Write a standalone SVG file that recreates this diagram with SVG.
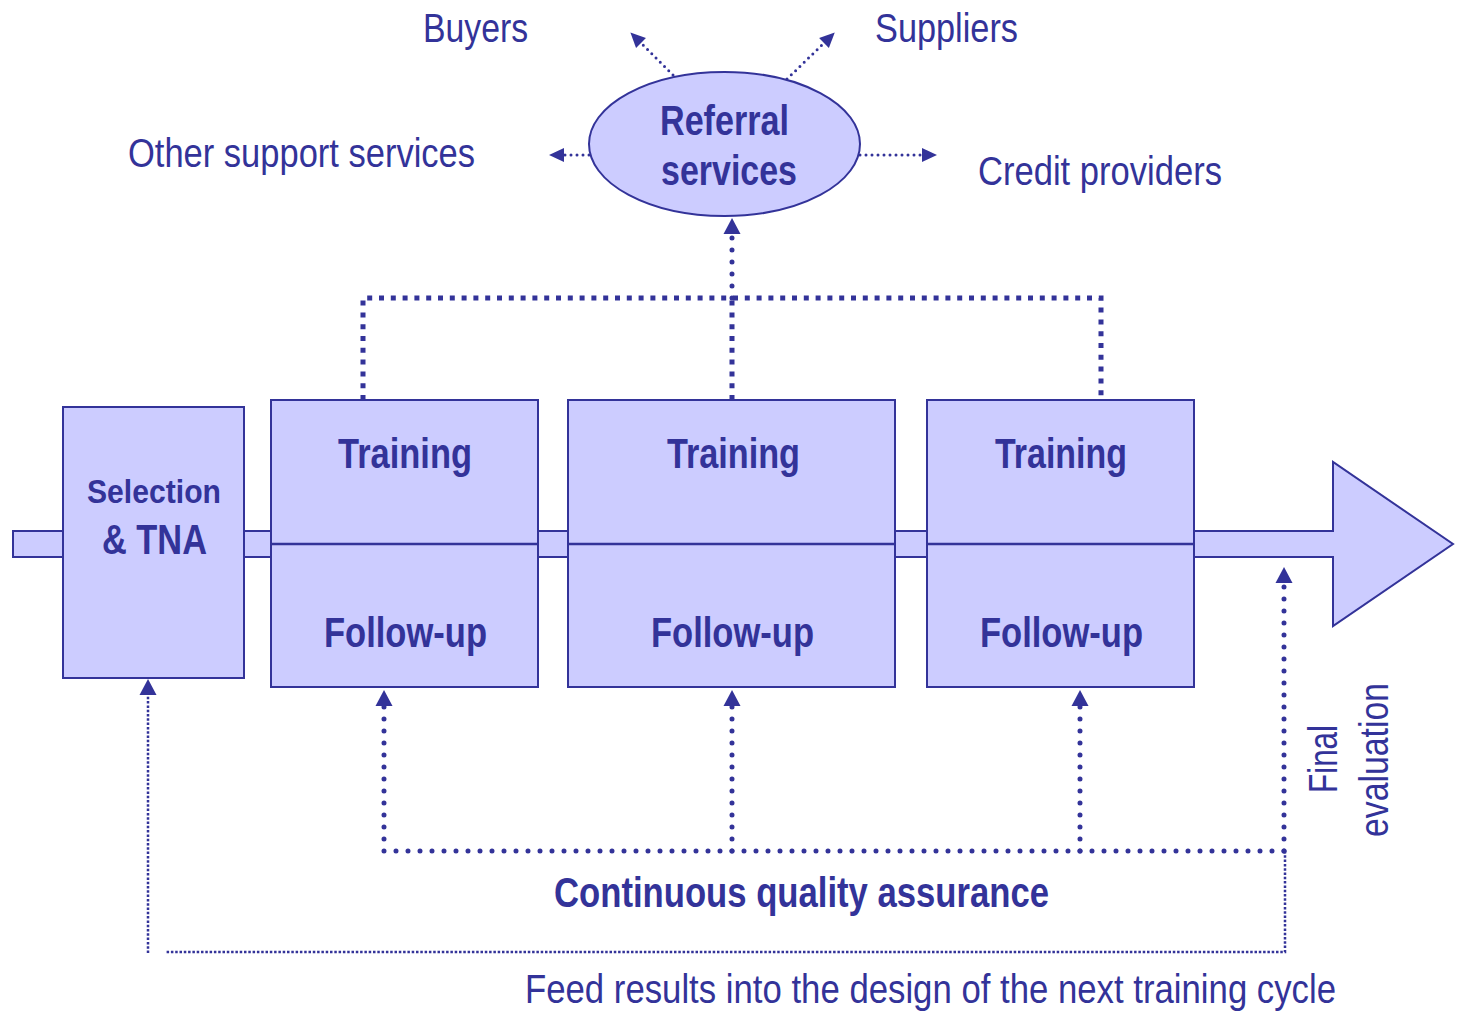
<svg xmlns="http://www.w3.org/2000/svg" width="1457" height="1014" viewBox="0 0 1457 1014">
<style>
.box{fill:#ccccff;stroke:#333399;stroke-width:2}
.div{stroke:#333399;stroke-width:2.5;fill:none}
.t{font-family:"Liberation Sans",Arial,sans-serif;fill:#333399;font-size:40px}
.b{font-family:"Liberation Sans",Arial,sans-serif;fill:#333399;font-size:42px;font-weight:bold;text-anchor:middle}
.dots{fill:none;stroke:#333399;stroke-width:5;stroke-linecap:round;stroke-dasharray:0 12}
.sq{fill:none;stroke:#333399;stroke-width:5;stroke-dasharray:5 6.8}
.thin{fill:none;stroke:#333399;stroke-width:2.5;stroke-dasharray:2.5 1.8}
.small{fill:none;stroke:#333399;stroke-width:3;stroke-linecap:round;stroke-dasharray:0 6}
</style>
<defs>
<marker id="ah" markerUnits="userSpaceOnUse" markerWidth="18" markerHeight="18" refX="0" refY="8.5" orient="auto" overflow="visible">
<path d="M0,0 L16,8.5 L0,17 z" fill="#333399"/>
</marker>
<marker id="as" markerUnits="userSpaceOnUse" markerWidth="16" markerHeight="16" refX="0" refY="7" orient="auto" overflow="visible">
<path d="M0,0 L15,7 L0,14 z" fill="#333399"/>
</marker>
</defs>

<g id="flow-arrow">
<polygon class="box" points="13,531 1333,531 1333,462 1453,544 1333,626 1333,557 13,557"/>
</g>

<g id="connectors">
<path class="sq" d="M363,400 V298 H1101 V400"/>
<path class="sq" d="M732,400 V298"/>
<path class="dots" d="M732,298 V234" marker-end="url(#ah)"/>
<path class="small" d="M673,75 L641,43" marker-end="url(#as)"/>
<path class="small" d="M787,79 L824,43" marker-end="url(#as)"/>
<path class="small" d="M589,155 H564" marker-end="url(#as)"/>
<path class="small" d="M860,155 H922" marker-end="url(#as)"/>
<path class="dots" d="M1284,851 H384 V706" marker-end="url(#ah)"/>
<path class="dots" d="M732,851 V706" marker-end="url(#ah)"/>
<path class="dots" d="M1080,851 V706" marker-end="url(#ah)"/>
<path class="dots" d="M1284,851 V583" marker-end="url(#ah)"/>
<path class="thin" d="M1285,851 V952 H165"/>
<path class="thin" d="M148,953 V695" marker-end="url(#ah)"/>
</g>

<g id="referral">
<ellipse class="box" cx="724.5" cy="144" rx="135.5" ry="72"/>
<text class="b" x="724.5" y="135" textLength="129" lengthAdjust="spacingAndGlyphs">Referral</text>
<text class="b" x="729" y="185" textLength="136" lengthAdjust="spacingAndGlyphs">services</text>
</g>

<g id="selection">
<rect class="box" x="63" y="407" width="181" height="271"/>
<text class="b" x="154" y="503" style="font-size:33px" textLength="134" lengthAdjust="spacingAndGlyphs">Selection</text>
<text class="b" x="154.5" y="554" textLength="105" lengthAdjust="spacingAndGlyphs">&amp; TNA</text>
</g>

<g id="training1">
<rect class="box" x="271" y="400" width="267" height="287"/>
<line class="div" x1="271" y1="544" x2="538" y2="544"/>
<text class="b" x="405" y="468" textLength="134" lengthAdjust="spacingAndGlyphs">Training</text>
<text class="b" x="405.5" y="647" textLength="163" lengthAdjust="spacingAndGlyphs">Follow-up</text>
</g>

<g id="training2">
<rect class="box" x="568" y="400" width="327" height="287"/>
<line class="div" x1="568" y1="544" x2="895" y2="544"/>
<text class="b" x="733.5" y="468" textLength="133" lengthAdjust="spacingAndGlyphs">Training</text>
<text class="b" x="732.5" y="647" textLength="163" lengthAdjust="spacingAndGlyphs">Follow-up</text>
</g>

<g id="training3">
<rect class="box" x="927" y="400" width="267" height="287"/>
<line class="div" x1="927" y1="544" x2="1194" y2="544"/>
<text class="b" x="1061" y="468" textLength="132" lengthAdjust="spacingAndGlyphs">Training</text>
<text class="b" x="1061.5" y="647" textLength="163" lengthAdjust="spacingAndGlyphs">Follow-up</text>
</g>

<g id="labels">
<text class="t" x="423" y="42" textLength="105" lengthAdjust="spacingAndGlyphs">Buyers</text>
<text class="t" x="875" y="42" textLength="143" lengthAdjust="spacingAndGlyphs">Suppliers</text>
<text class="t" x="128" y="167" textLength="347" lengthAdjust="spacingAndGlyphs">Other support services</text>
<text class="t" x="978" y="185" textLength="244" lengthAdjust="spacingAndGlyphs">Credit providers</text>
<text class="b" x="801.5" y="907" textLength="495" lengthAdjust="spacingAndGlyphs">Continuous quality assurance</text>
<text class="t" x="525" y="1003" textLength="811" lengthAdjust="spacingAndGlyphs">Feed results into the design of the next training cycle</text>
<text class="t" style="text-anchor:middle" transform="translate(1337,759) rotate(-90)" textLength="68" lengthAdjust="spacingAndGlyphs">Final</text>
<text class="t" style="text-anchor:middle" transform="translate(1388,760) rotate(-90)" textLength="154" lengthAdjust="spacingAndGlyphs">evaluation</text>
</g>
</svg>
